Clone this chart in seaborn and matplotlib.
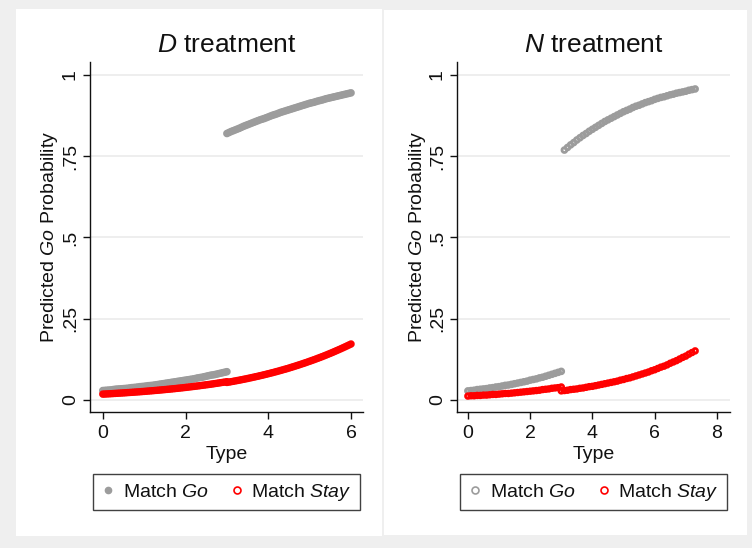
import matplotlib
matplotlib.use("Agg")
import matplotlib.pyplot as plt
from matplotlib.patches import Rectangle
from matplotlib.lines import Line2D
import pandas as pd
import seaborn as sns

# Type values at which the D-treatment predictions are plotted
D_TYPE_LOW = [0.00, 0.05, 0.10, 0.15, 0.20, 0.25, 0.30, 0.35, 0.40, 0.45,
              0.50, 0.55, 0.60, 0.65, 0.70, 0.75, 0.80, 0.85, 0.90, 0.95,
              1.00, 1.05, 1.10, 1.15, 1.20, 1.25, 1.30, 1.35, 1.40, 1.45,
              1.50, 1.55, 1.60, 1.65, 1.70, 1.75, 1.80, 1.85, 1.90, 1.95,
              2.00, 2.05, 2.10, 2.15, 2.20, 2.25, 2.30, 2.35, 2.40, 2.45,
              2.50, 2.55, 2.60, 2.65, 2.70, 2.75, 2.80, 2.85, 2.90, 2.95,
              3.00]
D_TYPE_HIGH = [3.00, 3.05, 3.10, 3.15, 3.20, 3.25, 3.30, 3.35, 3.40, 3.45,
               3.50, 3.55, 3.60, 3.65, 3.70, 3.75, 3.80, 3.85, 3.90, 3.95,
               4.00, 4.05, 4.10, 4.15, 4.20, 4.25, 4.30, 4.35, 4.40, 4.45,
               4.50, 4.55, 4.60, 4.65, 4.70, 4.75, 4.80, 4.85, 4.90, 4.95,
               5.00, 5.05, 5.10, 5.15, 5.20, 5.25, 5.30, 5.35, 5.40, 5.45,
               5.50, 5.55, 5.60, 5.65, 5.70, 5.75, 5.80, 5.85, 5.90, 5.95,
               6.00]

# Type values at which the N-treatment predictions are plotted
N_TYPE_LOW = [0.0, 0.1, 0.2, 0.3, 0.4, 0.5, 0.6, 0.7, 0.8, 0.9, 1.0,
              1.1, 1.2, 1.3, 1.4, 1.5, 1.6, 1.7, 1.8, 1.9, 2.0,
              2.1, 2.2, 2.3, 2.4, 2.5, 2.6, 2.7, 2.8, 2.9, 3.0]
N_TYPE_HIGH = [3.0, 3.1, 3.2, 3.3, 3.4, 3.5, 3.6, 3.7, 3.8, 3.9, 4.0,
               4.1, 4.2, 4.3, 4.4, 4.5, 4.6, 4.7, 4.8, 4.9, 5.0,
               5.1, 5.2, 5.3, 5.4, 5.5, 5.6, 5.7, 5.8, 5.9, 6.0,
               6.1, 6.2, 6.3, 6.4, 6.5, 6.6, 6.7, 6.8, 6.9, 7.0,
               7.1, 7.2, 7.3]

# D treatment: predicted Go probability
D_GO_LOW = [0.029, 0.0295, 0.030, 0.0305, 0.031, 0.032, 0.033, 0.0335, 0.034, 0.0345,
            0.035, 0.0355, 0.036, 0.037, 0.038, 0.0385, 0.039, 0.040, 0.041, 0.0415,
            0.042, 0.043, 0.044, 0.0445, 0.045, 0.046, 0.047, 0.048, 0.049, 0.050,
            0.051, 0.052, 0.053, 0.054, 0.055, 0.056, 0.057, 0.058, 0.059, 0.060,
            0.061, 0.062, 0.063, 0.064, 0.065, 0.0665, 0.068, 0.069, 0.070, 0.0715,
            0.073, 0.0745, 0.076, 0.077, 0.078, 0.0795, 0.081, 0.0825, 0.084, 0.0855,
            0.087]
D_GO_HIGH = [0.820, 0.823, 0.826, 0.8285, 0.831, 0.8335, 0.836, 0.839, 0.842, 0.8445,
             0.847, 0.8495, 0.852, 0.8545, 0.857, 0.8595, 0.862, 0.864, 0.866, 0.8685,
             0.871, 0.8735, 0.876, 0.878, 0.880, 0.8825, 0.885, 0.887, 0.889, 0.891,
             0.893, 0.895, 0.897, 0.899, 0.901, 0.903, 0.905, 0.907, 0.909, 0.911,
             0.913, 0.9145, 0.916, 0.918, 0.920, 0.9215, 0.923, 0.925, 0.927, 0.9285,
             0.930, 0.9315, 0.933, 0.9345, 0.936, 0.9375, 0.939, 0.9405, 0.942, 0.9435,
             0.945]
D_STAY_LOW = [0.0180, 0.0183, 0.0187, 0.0190, 0.0194, 0.0198, 0.0202, 0.0206, 0.0210, 0.0214,
              0.0218, 0.0222, 0.0227, 0.0231, 0.0235, 0.0240, 0.0245, 0.0249, 0.0254, 0.0259,
              0.0264, 0.0269, 0.0275, 0.0280, 0.0285, 0.0291, 0.0296, 0.0302, 0.0308, 0.0314,
              0.0320, 0.0326, 0.0332, 0.0338, 0.0345, 0.0351, 0.0358, 0.0365, 0.0372, 0.0379,
              0.0386, 0.0394, 0.0402, 0.0409, 0.0417, 0.0425, 0.0433, 0.0441, 0.0450, 0.0458,
              0.0467, 0.0475, 0.0484, 0.0493, 0.0503, 0.0512, 0.0522, 0.0532, 0.0542, 0.0552,
              0.0562]
D_STAY_HIGH = [0.0540, 0.0551, 0.0562, 0.0574, 0.0586, 0.0598, 0.0610, 0.0622, 0.0635, 0.0648,
               0.0661, 0.0675, 0.0689, 0.0703, 0.0717, 0.0731, 0.0746, 0.0761, 0.0776, 0.0792,
               0.0808, 0.0824, 0.0840, 0.0857, 0.0874, 0.0891, 0.0909, 0.0927, 0.0945, 0.0963,
               0.0982, 0.1002, 0.1022, 0.1042, 0.1062, 0.1083, 0.1104, 0.1125, 0.1147, 0.1169,
               0.1191, 0.1214, 0.1237, 0.1260, 0.1284, 0.1308, 0.1333, 0.1358, 0.1383, 0.1409,
               0.1435, 0.1462, 0.1490, 0.1518, 0.1546, 0.1574, 0.1603, 0.1632, 0.1662, 0.1692,
               0.1722]

# N treatment: predicted Go probability
N_GO_LOW = [0.028, 0.029, 0.030, 0.032, 0.033, 0.034, 0.035, 0.037, 0.038, 0.040, 0.041,
            0.043, 0.045, 0.046, 0.048, 0.050, 0.052, 0.054, 0.056, 0.058, 0.061,
            0.063, 0.065, 0.068, 0.070, 0.073, 0.076, 0.079, 0.082, 0.085, 0.088]
N_GO_HIGH = [0.769, 0.777, 0.785, 0.792, 0.800, 0.807, 0.814, 0.820, 0.827, 0.833,
             0.839, 0.845, 0.851, 0.857, 0.862, 0.867, 0.872, 0.877, 0.882, 0.887,
             0.891, 0.895, 0.900, 0.904, 0.907, 0.911, 0.915, 0.918, 0.921, 0.925,
             0.928, 0.931, 0.933, 0.936, 0.939, 0.941, 0.944, 0.946, 0.948, 0.950,
             0.953, 0.955, 0.957]
N_STAY_LOW = [0.012, 0.013, 0.013, 0.014, 0.014, 0.015, 0.015, 0.016, 0.017, 0.017, 0.018,
              0.019, 0.020, 0.020, 0.021, 0.022, 0.023, 0.024, 0.025, 0.026, 0.027,
              0.028, 0.029, 0.030, 0.032, 0.033, 0.034, 0.036, 0.037, 0.038, 0.040]
N_STAY_HIGH = [0.028, 0.029, 0.030, 0.032, 0.033, 0.034, 0.036, 0.037, 0.039, 0.041, 0.042,
               0.044, 0.046, 0.048, 0.050, 0.052, 0.054, 0.056, 0.058, 0.061, 0.063,
               0.066, 0.068, 0.071, 0.074, 0.077, 0.080, 0.083, 0.086, 0.090, 0.093,
               0.097, 0.101, 0.104, 0.108, 0.113, 0.117, 0.121, 0.126, 0.131, 0.135,
               0.141, 0.146, 0.151]

Y_TICKS = [0, 0.25, 0.5, 0.75, 1]
Y_TICK_LABELS = ["0", ".25", ".5", ".75", "1"]
D_X_TICKS = [0, 2, 4, 6]
N_X_TICKS = [0, 2, 4, 6, 8]

GRAY = "#9c9c9c"
RED = "#ff0000"
INK = "#111111"
FS = 14
MARKER_AREA = 12


def frame(treatment, pairs):
    rows = []
    for outcome, xs, ys in pairs:
        rows.append(pd.DataFrame({"treatment": treatment, "outcome": outcome,
                                  "Type": xs, "prob": ys}))
    return pd.concat(rows, ignore_index=True)


df_d = frame("D", [("go", D_TYPE_LOW, D_GO_LOW), ("go", D_TYPE_HIGH, D_GO_HIGH),
                   ("stay", D_TYPE_LOW, D_STAY_LOW), ("stay", D_TYPE_HIGH, D_STAY_HIGH)])
df_n = frame("N", [("go", N_TYPE_LOW, N_GO_LOW), ("go", N_TYPE_HIGH[1:], N_GO_HIGH),
                   ("stay", N_TYPE_LOW, N_STAY_LOW), ("stay", N_TYPE_HIGH, N_STAY_HIGH)])

sns.set_theme(style="white")
plt.rcParams["font.family"] = ["Liberation Sans", "DejaVu Sans"]
plt.rcParams["mathtext.fontset"] = "custom"
plt.rcParams["mathtext.rm"] = "Liberation Sans"
plt.rcParams["mathtext.it"] = "Liberation Sans:italic"
plt.rcParams["text.color"] = INK
plt.rcParams["axes.labelcolor"] = INK
plt.rcParams["xtick.color"] = INK
plt.rcParams["ytick.color"] = INK

W, H = 752, 548
fig = plt.figure(figsize=(W / 100, H / 100), dpi=100)
fig.patch.set_facecolor("#efefef")

# white panels behind each graph
for (x0, y0, x1, y1) in [(16, 9, 382, 536), (384, 10, 747, 535)]:
    fig.patches.append(Rectangle((x0 / W, 1 - y1 / H), (x1 - x0) / W, (y1 - y0) / H,
                                 transform=fig.transFigure, facecolor="white",
                                 edgecolor="none", zorder=-5))

ax_d = fig.add_axes([90 / W, 1 - 412 / H, 273 / W, 350 / H])
ax_n = fig.add_axes([457 / W, 1 - 412 / H, 273 / W, 350 / H])

panels = [
    (ax_d, df_d, r"$\mathit{D}$ treatment", D_X_TICKS, (-0.31, 6.29), True),
    (ax_n, df_n, r"$\mathit{N}$ treatment", N_X_TICKS, (-0.35, 8.42), False),
]


def scatter(ax, data, color, filled, lw, z):
    sns.scatterplot(data=data, x="Type", y="prob", ax=ax, marker="o", s=MARKER_AREA,
                    color=color, facecolor=color if filled else "none",
                    edgecolor=color, linewidth=lw, zorder=z)
    # per-point sizes keep markers at sub-pixel positions (smoother curves)
    ax.collections[-1].set_sizes([MARKER_AREA] * len(data))


for ax, df, title, xticks, xlim, go_filled in panels:
    ax.set_facecolor("white")
    scatter(ax, df[df["outcome"] == "go"], GRAY, go_filled, 2.0, 3)
    scatter(ax, df[df["outcome"] == "stay"], RED, False, 1.9, 4)

    ax.set_xlim(*xlim)
    ax.set_ylim(-0.037, 1.04)
    ax.set_xticks(xticks)
    ax.set_xticklabels([str(t) for t in xticks])
    ax.set_yticks(Y_TICKS)
    ax.set_yticklabels(Y_TICK_LABELS, rotation=90, va="center")
    ax.grid(axis="y", color="#ebebeb", linewidth=1.2)
    ax.grid(axis="x", visible=False)
    ax.set_axisbelow(True)
    for side in ["top", "right"]:
        ax.spines[side].set_visible(False)
    for side in ["left", "bottom"]:
        ax.spines[side].set_visible(True)
        ax.spines[side].set_color(INK)
        ax.spines[side].set_linewidth(1.0)
    ax.tick_params(axis="both", which="major", direction="out", length=5, width=1,
                   color=INK, labelsize=FS, pad=3, left=True, bottom=True)
    ax.tick_params(axis="x", pad=4)
    ax.set_xlabel("Type", fontsize=FS, labelpad=3)
    ax.set_ylabel(r"Predicted $\mathit{Go}$ Probability", fontsize=FS, labelpad=1)
    ax.set_title(title, fontsize=19, pad=7)

    if go_filled:
        go_handle = Line2D([], [], linestyle="none", marker="o", markersize=4.5,
                           markerfacecolor=GRAY, markeredgecolor=GRAY)
    else:
        go_handle = Line2D([], [], linestyle="none", marker="o", markersize=5,
                           markerfacecolor="none", markeredgecolor=GRAY, markeredgewidth=1.2)
    stay_handle = Line2D([], [], linestyle="none", marker="o", markersize=5,
                         markerfacecolor="none", markeredgecolor=RED, markeredgewidth=1.2)
    leg = ax.legend([go_handle, stay_handle],
                    [r"Match $\mathit{Go}$", r"Match $\mathit{Stay}$"],
                    ncol=2, loc="center", bbox_to_anchor=(0.5, -0.2286),
                    frameon=True, fancybox=False, fontsize=FS,
                    handlelength=0.7, handletextpad=0.4, columnspacing=1.1,
                    borderpad=0.4, borderaxespad=0)
    leg.get_frame().set_edgecolor(INK)
    leg.get_frame().set_linewidth(1.0)

fig.savefig("out.png", dpi=100, facecolor=fig.get_facecolor())
